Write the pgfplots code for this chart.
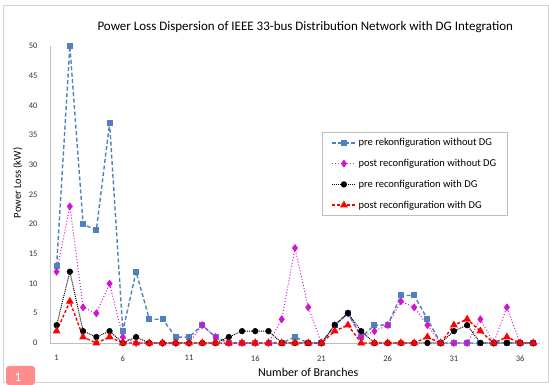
\documentclass[border=0pt]{standalone}
\usepackage{pgfplots}
\pgfplotsset{compat=1.18}
\usepackage{fontspec}
\setmainfont{Carlito}
\definecolor{xblue}{RGB}{79,129,189}
\definecolor{xmag}{RGB}{210,20,210}
\definecolor{xred}{RGB}{255,0,0}
\definecolor{axgray}{RGB}{190,190,190}
\pgfplotstableread{
x a b c d
1 13 12 3 2
2 50 23 12 7
3 20 6 2 1
4 19 5 1 0
5 37 10 2 1
6 2 1 0 0
7 12 0 1 0
8 4 0 0 0
9 4 0 0 0
10 1 0 0 0
11 1 0 0 0
12 3 3 0 0
13 1 1 0 0
14 0 0 1 0
15 0 0 2 0
16 0 0 2 0
17 0 0 2 0
18 0 4 0 0
19 1 16 0 0
20 0 6 0 0
21 0 0 0 0
22 3 3 3 2
23 5 5 5 3
24 1 1 2 0
25 3 2 0 0
26 3 3 0 0
27 8 7 0 0
28 8 6 0 0
29 4 3 0 1
30 0 0 0 0
31 0 0 2 3
32 0 0 3 4
33 0 4 0 2
34 0 0 0 0
35 0 6 0 1
36 0 0 0 0
37 0 0 0 0
}\datatable
\begin{document}
\begin{tikzpicture}[x=1pt,y=1pt]
\useasboundingbox (0,0) rectangle (549,385);
\draw[axgray!70, line width=1pt] (3,2) rectangle (548,379);
\begin{axis}[
  at={(50pt,42pt)}, anchor=south west,
  scale only axis, width=490pt, height=297pt,
  xmin=0.5, xmax=37.5, ymin=0, ymax=50,
  xtick={1,6,...,36}, ytick={0,5,...,50},
  major tick length=0pt,
  axis x line*=bottom, axis y line*=left,
  axis line style={axgray, line width=0.8pt, -},
  tick label style={font=\fontsize{8.5}{9}\selectfont, text=black!80},
  xticklabel style={yshift=-9pt},
  yticklabel style={xshift=-9pt},
  /pgf/number format/assume math mode=true,
  title={Power Loss Dispersion of IEEE 33-bus Distribution Network with DG Integration},
  title style={font=\fontsize{13}{15}\selectfont, at={(axis description cs:0.521,1.044)}, anchor=center},
  xlabel={Number of Branches},
  xlabel style={font=\fontsize{12}{14}\selectfont, at={(axis description cs:0.527,-0.1)}, anchor=center},
  ylabel={Power Loss (kW)},
  ylabel style={font=\fontsize{10.5}{12}\selectfont, at={(axis description cs:-0.066,0.539)}, anchor=center, rotate=0},
  legend style={at={(0.555,0.71)}, anchor=north west, draw=axgray, line width=0.6pt,
    font=\fontsize{10.5}{12}\selectfont, row sep=8pt, inner xsep=9pt, inner ysep=4pt},
  legend cell align=left,
  legend image code/.code={\draw[mark repeat=2,mark phase=2] plot coordinates {(0pt,0pt)(12pt,0pt)(24pt,0pt)};},
  clip=false,
]
\addplot[xblue, line width=1.4pt, dash pattern=on 4pt off 2.5pt, mark=square*, mark size=2.3pt, mark options={solid, fill=xblue}] table[x=x,y=a] {\datatable};
\addlegendentry{pre rekonfiguration without DG}
\addplot[xmag, line width=1pt, dotted, mark=diamond*, mark size=3.2pt, mark options={solid, fill=xmag}] table[x=x,y=b] {\datatable};
\addlegendentry{post reconfiguration without DG}
\addplot[black, line width=1pt, densely dotted, mark=*, mark size=2.6pt, mark options={solid, fill=black}] table[x=x,y=c] {\datatable};
\addlegendentry{pre reconfiguration with DG}
\addplot[xred, line width=1.4pt, dash pattern=on 3pt off 2pt, mark=triangle*, mark size=3.2pt, mark options={solid, fill=xred}] table[x=x,y=d] {\datatable};
\addlegendentry{post reconfiguration with DG}
\end{axis}
\fill[red!45, rounded corners=3pt] (6,0) rectangle (35,19);
\node[text=white, font=\fontsize{13}{14}\selectfont] at (18,8) {1};
\end{tikzpicture}
\end{document}
